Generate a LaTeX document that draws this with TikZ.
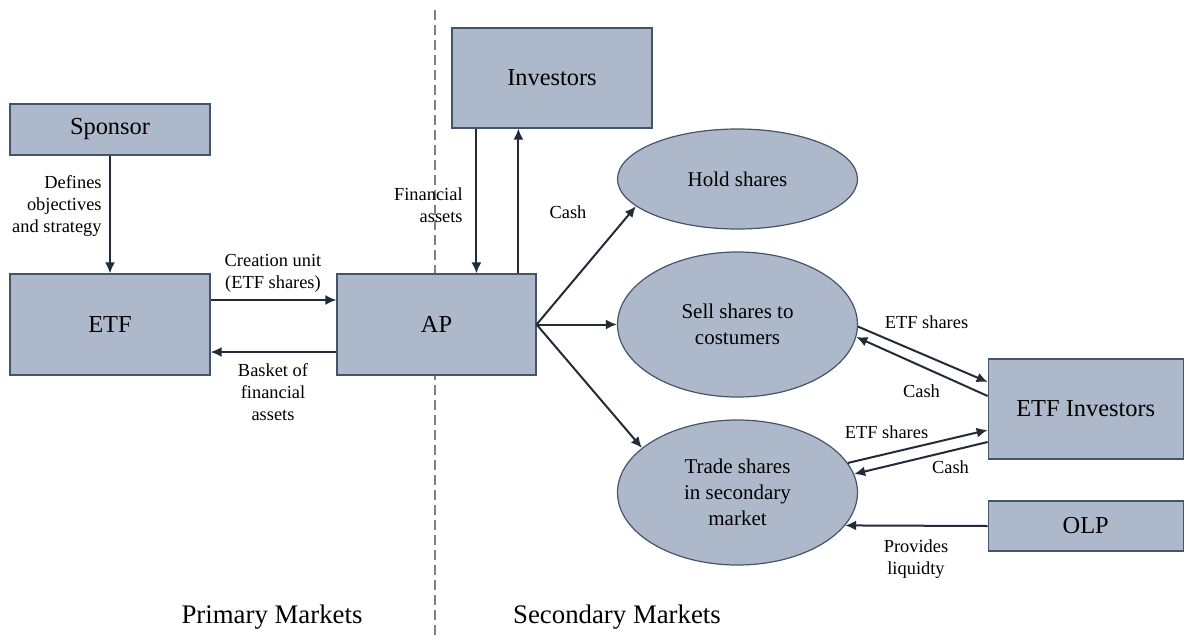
\documentclass[tikz,border=0pt]{standalone}
\usepackage{fontspec}
\setmainfont{LiberationSerif}[Extension=.ttf, UprightFont=*-Regular, BoldFont=*-Bold, ItalicFont=*-Italic, BoldItalicFont=*-BoldItalic]
\usetikzlibrary{arrows.meta,calc,shapes.geometric}
\definecolor{boxfill}{HTML}{ADB9CA}
\definecolor{boxline}{HTML}{44546A}
\definecolor{arrowc}{HTML}{222B38}
\definecolor{divider}{HTML}{808080}

\begin{document}
\begin{tikzpicture}[x=0.5pt,y=-0.5pt,
  box/.style={rectangle, draw=boxline, fill=boxfill, line width=0.6pt, inner sep=0pt,
              font=\fontsize{12.2}{14}\selectfont},
  oval/.style={ellipse, draw=boxline, fill=boxfill, line width=0.6pt, inner sep=0pt,
               align=center, font=\fontsize{10.5}{13}\selectfont},
  lbl/.style={inner sep=0pt, align=center, font=\fontsize{9.2}{11}\selectfont},
  arr/.style={draw=arrowc, line width=1pt, -{Latex[length=5.5pt,width=5pt]}},
  market/.style={inner sep=0pt, font=\fontsize{13.4}{16}\selectfont}]

\useasboundingbox (0,0) rectangle (1184,638);

% divider between primary and secondary markets
\draw[divider, line width=0.7pt, dash pattern=on 5pt off 2.5pt] (435,10) -- (435,638);

% boxes
\node[box, minimum width=100pt, minimum height=25.5pt] (sponsor) at (110,129.5) {Sponsor};
\node[box, minimum width=100pt, minimum height=50.5pt] (etf) at (110,324.5) {ETF};
\node[box, minimum width=99.5pt, minimum height=50.5pt] (ap) at (436.5,324.5) {AP};
\node[box, minimum width=100pt, minimum height=50pt] (investors) at (552,78) {Investors};
\node[box, minimum width=97.5pt, minimum height=50pt] (etfinv) at (1085.75,409) {ETF Investors};
\node[box, minimum width=97.5pt, minimum height=25pt] (olp) at (1085.75,526) {OLP};

% ovals
\node[oval, minimum width=120pt, minimum height=50pt] (hold) at (737.5,179) {Hold shares};
\node[oval, minimum width=120pt, minimum height=72.5pt] (sell) at (737.5,324.5) {Sell shares to\\costumers};
\node[oval, minimum width=120pt, minimum height=72.5pt] (trade) at (737.5,492.5) {Trade shares\\in secondary\\market};

% connectors
\coordinate (invL) at ($(investors.south west)+(25,0)$);
\coordinate (invR) at ($(investors.south west)+(67,0)$);

\draw[arr] (sponsor) -- (etf);
\draw[arr] ($(etf.east)+(0,-24.5)$) -- ($(ap.west)+(0,-24.5)$);
\draw[arr] ($(ap.west)+(0,27.5)$) -- ($(etf.east)+(0,27.5)$);
\draw[arr] (invL) -- (invL |- ap.north);
\draw[arr] (invR |- ap.north) -- (invR);
\draw[arr] (ap.east) -- (hold.195);
\draw[arr] (ap.east) -- (sell.west);
\draw[arr] (ap.east) -- (trade.155);
\draw[arr] (sell.-1) -- ($(etfinv.west)+(0,-27)$);
\draw[arr] ($(etfinv.west)+(0,-13)$) -- (sell.-6.5);
\draw[arr] (trade.15) -- ($(etfinv.west)+(0,21)$);
\draw[arr] ($(etfinv.west)+(0,33)$) -- (trade.9);
\draw[arr] (olp.west) -- (trade.-17.4);

% labels
\node[lbl, anchor=east, align=right] (ldefines) at (102,206) {Defines\\objectives\\and strategy};
\node[lbl] (lcreation) at (273,273) {Creation unit\\(ETF shares)};
\node[lbl] (lbasket) at (273,392) {Basket of\\financial\\assets};
\node[lbl, anchor=east, align=right] (lfin) at (463,205) {Financial\\assets};
\node[lbl] (lcash1) at (568,212) {Cash};
\node[lbl] (lshares1) at (926.5,322) {ETF shares};
\node[lbl] (lcash2) at (921.5,391) {Cash};
\node[lbl] (lshares2) at (886.5,432) {ETF shares};
\node[lbl] (lcash3) at (950.5,467) {Cash};
\node[lbl] (lprov) at (916,559) {Provides\\liquidty};

\node[market] (primary) at (272,617) {Primary Markets};
\node[market] (secondary) at (617,617) {Secondary Markets};
\end{tikzpicture}
\end{document}
